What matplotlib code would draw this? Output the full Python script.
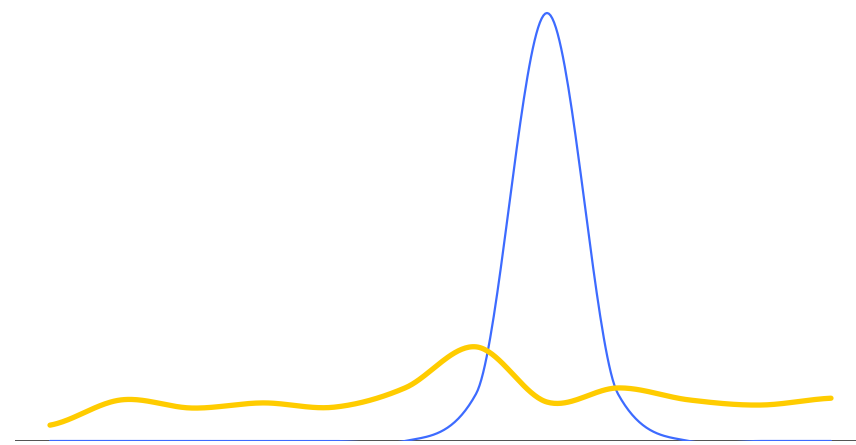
import numpy as np
import matplotlib.pyplot as plt

points = list(range(12))
blue_values = [0, 0, 0, 0, 0, 0, 11, 100, 11, 0, 0, 0]
yellow_values = [3.7, 9.6, 7.7, 8.9, 7.9, 12.4, 22.0, 9.1, 12.4, 9.6, 8.4, 10.0]


def smooth(x, y, s=0.5, steps=40):
    # cardinal curve through the points (like a "function" curve line)
    x = np.asarray(x, float)
    y = np.asarray(y, float)
    xs, ys = [], []
    for i in range(len(x) - 1):
        y0 = y[i - 1] if i > 0 else y[i]
        y3 = y[i + 2] if i + 2 < len(y) else y[i + 1]
        m1 = (y[i + 1] - y0) * s
        m2 = (y3 - y[i]) * s
        t = np.linspace(0, 1, steps, endpoint=False)
        h00 = 2 * t**3 - 3 * t**2 + 1
        h10 = t**3 - 2 * t**2 + t
        h01 = -2 * t**3 + 3 * t**2
        h11 = t**3 - t**2
        xs.append(x[i] + t * (x[i + 1] - x[i]))
        ys.append(h00 * y[i] + h10 * m1 + h01 * y[i + 1] + h11 * m2)
    xs.append([x[-1]])
    ys.append([y[-1]])
    return np.concatenate(xs), np.concatenate(ys)


fig = plt.figure(figsize=(8.56, 4.45), dpi=100)
ax = fig.add_axes([15 / 856, 4 / 445, 841 / 856, 441 / 445])

bx, by = smooth(points, blue_values, s=0.3)
yx, yy = smooth(points, yellow_values, s=0.5)

ax.axhline(0, color='#333333', linewidth=1.2, zorder=1)
ax.plot(bx, by, color='#3d6bff', linewidth=1.6, solid_capstyle='round', zorder=2)
ax.plot(yx, yy, color='#ffcc00', linewidth=3.8, solid_capstyle='round', zorder=3)

ax.set_xlim(-35 / 71, 11 + 25 / 71)
ax.set_ylim(0, 441 / 4.28)
ax.axis('off')

fig.savefig('out.png', dpi=100)
